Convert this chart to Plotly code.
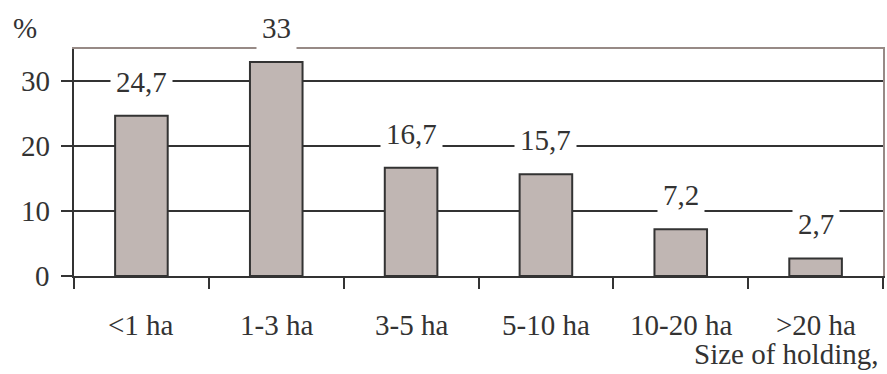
import plotly.graph_objects as go

categories = ["<1 ha", "1-3 ha", "3-5 ha", "5-10 ha", "10-20 ha", ">20 ha"]
shares = [24.7, 33, 16.7, 15.7, 7.2, 2.7]
value_labels = ["24,7", "33", "16,7", "15,7", "7,2", "2,7"]
y_ticks = [0, 10, 20, 30]
y_tick_labels = ["0", "10", "20", "30"]

FONT = "Liberation Serif"
INK = "#333333"
FRAME = "#978a86"
BAR = "#c0b6b3"
SIZE = 29
X_RANGE = [-0.5, 5.5]
Y_RANGE = [0, 35]


def text_font():
    return dict(family=FONT, size=SIZE, color=INK)


fig = go.Figure()
fig.add_trace(
    go.Bar(
        x=categories,
        y=shares,
        width=0.39,
        marker=dict(color=BAR, line=dict(color=INK, width=2)),
        showlegend=False,
    )
)
# empty companion trace so the top/right frame axes get drawn
fig.add_trace(go.Scatter(x=[None], y=[None], xaxis="x2", yaxis="y2",
                         mode="markers", showlegend=False))

# value labels sit above each bar on a white box that cuts through the gridlines
for cat, val, txt in zip(categories, shares, value_labels):
    fig.add_annotation(
        x=cat, y=val, text=txt, showarrow=False,
        yanchor="middle", yshift=34,
        bgcolor="white", borderpad=5,
        font=text_font(),
    )

# category labels under the axis
for cat in categories:
    fig.add_annotation(
        x=cat, y=0, yref="paper", text=cat, showarrow=False,
        yanchor="middle", yshift=-49, font=text_font(),
    )

# value-axis labels left of the ticks
for val, txt in zip(y_ticks, y_tick_labels):
    fig.add_annotation(
        x=0, xref="paper", y=val, text=txt, showarrow=False,
        xanchor="right", yanchor="middle", xshift=-22, font=text_font(),
    )

fig.add_annotation(xref="paper", yref="paper", x=0, y=1.0, text="%",
                   showarrow=False, xanchor="left", yanchor="middle", xshift=-63, yshift=21,
                   font=text_font())
fig.add_annotation(xref="paper", yref="paper", x=1.0, y=0, text="Size of holding,",
                   showarrow=False, xanchor="right", yanchor="middle", yshift=-78, xshift=-3,
                   font=text_font())

fig.update_layout(
    width=887, height=374,
    margin=dict(l=74, r=4, t=49, b=98),
    plot_bgcolor="white",
    showlegend=False,
    font=text_font(),
    xaxis=dict(
        range=X_RANGE, showticklabels=False,
        showline=True, linecolor=INK, linewidth=2,
        ticks="outside", tickson="boundaries", ticklen=11, tickwidth=2, tickcolor=INK,
        showgrid=False,
    ),
    yaxis=dict(
        range=Y_RANGE, tickvals=y_ticks, showticklabels=False,
        showline=True, linecolor=INK, linewidth=2,
        ticks="outside", ticklen=11, tickwidth=2, tickcolor=INK,
        showgrid=True, gridcolor=INK, gridwidth=2, zeroline=False,
    ),
    # brownish frame along the top and right edges of the plot area
    xaxis2=dict(
        overlaying="x", side="top", anchor="y2", range=X_RANGE,
        showline=True, linecolor=FRAME, linewidth=2,
        showticklabels=False, ticks="", showgrid=False, zeroline=False,
    ),
    yaxis2=dict(
        overlaying="y", side="right", anchor="x2", range=Y_RANGE,
        showline=True, linecolor=FRAME, linewidth=2,
        showticklabels=False, ticks="", showgrid=False, zeroline=False,
    ),
)

fig.write_html("out.html")
